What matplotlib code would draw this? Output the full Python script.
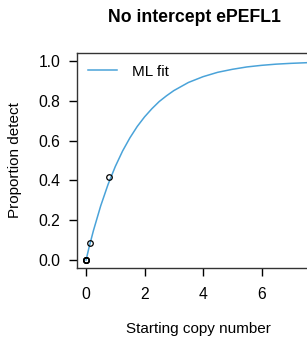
import matplotlib
matplotlib.use("Agg")
import matplotlib.pyplot as plt

plt.rcParams['font.family'] = ['Liberation Sans', 'DejaVu Sans']

# Observed points (several overlapping at zero)
obs_x = [0.0, 0.0, 0.0, 0.0, 0.15, 0.78]
obs_y = [0.0, 0.0, 0.0, 0.0, 0.085, 0.417]

# ML fit curve
fit_x = [0.0, 0.1, 0.25, 0.5, 0.75, 1.0, 1.25, 1.5, 1.75, 2.0, 2.25, 2.5, 2.75, 3.0,
         3.5, 4.0, 4.5, 5.0, 5.5, 6.0, 6.5, 7.0, 7.5, 8.0]
fit_y = [0.0, 0.062, 0.147, 0.272, 0.379, 0.470, 0.548, 0.614, 0.671, 0.719, 0.760,
         0.796, 0.825, 0.851, 0.892, 0.921, 0.943, 0.958, 0.970, 0.978, 0.984,
         0.988, 0.991, 0.994]

title = "No intercept ePEFL1"
xlabel = "Starting copy number"
ylabel = "Proportion detect"
xticks = [0, 2, 4, 6]
yticks = [0.0, 0.2, 0.4, 0.6, 0.8, 1.0]

W, H = 307, 343
fig = plt.figure(figsize=(W / 100, H / 100), dpi=100)
left, right, top, bottom = 77, 320, 53, 268
ax = fig.add_axes([left / W, 1 - bottom / H, (right - left) / W, (bottom - top) / H])

ax.plot(fit_x, fit_y, color='#4aa3d9', lw=1.1, label='ML fit')
ax.plot(obs_x, obs_y, linestyle='none', marker='o', markersize=4.0,
        markerfacecolor='none', markeredgecolor='black', markeredgewidth=0.9)

ax.set_xlim(-0.31, 8.0)
ax.set_ylim(-0.04, 1.04)
ax.set_xticks(xticks)
ax.set_xticklabels([str(t) for t in xticks])
ax.set_yticks(yticks)
ax.set_yticklabels([f"{t:.1f}" for t in yticks])
ax.tick_params(direction='out', length=6, width=1, color='black', labelsize=11.3,
               pad=4)
ax.tick_params(axis='x', pad=8)
ax.tick_params(axis='y', pad=6)
for s in ax.spines.values():
    s.set_color('#333333')
    s.set_linewidth(1.0)

ax.set_xlabel(xlabel, fontsize=11, labelpad=14)
ax.set_ylabel(ylabel, fontsize=11, labelpad=12)
fig.text(194 / W, 1 - 17 / H, title, ha='center', va='center',
         fontsize=12.7, fontweight='bold')

leg = ax.legend(loc='upper left', frameon=False, fontsize=11, handlelength=1.9,
                handletextpad=1.0, borderaxespad=0.3, bbox_to_anchor=(0.0, 0.995))

fig.savefig("out.png", dpi=100)
